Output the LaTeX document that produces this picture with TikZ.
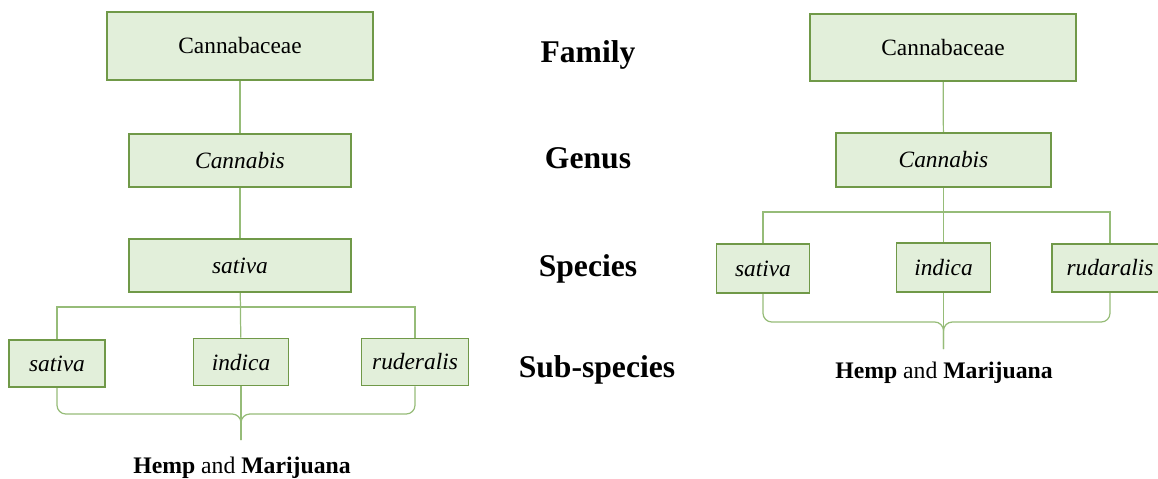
\documentclass[tikz,border=0pt]{standalone}
\usepackage{fontspec}
\setmainfont{Liberation Serif}
\usetikzlibrary{positioning,backgrounds}

\definecolor{boxfill}{RGB}{226,239,218}
\definecolor{boxline}{RGB}{112,153,72}
\definecolor{linkline}{RGB}{150,188,120}

\begin{document}
\begin{tikzpicture}[
    x=0.02cm, y=-0.02cm,
    taxon/.style={draw=boxline, fill=boxfill, line width=1.1pt, inner sep=0pt,
                  font=\fontsize{13.3}{16}\selectfont},
    rank/.style={font=\fontsize{18}{21}\selectfont\bfseries},
    link/.style={draw=linkline, line width=0.7pt},
    hemp/.style={font=\fontsize{13.5}{16}\selectfont},
]
\useasboundingbox (0,0) rectangle (1158,478);

% === Left tree: sativa as the only species ===
\node[taxon, minimum width=5.32cm, minimum height=1.36cm] (famL) at (240,46) {Cannabaceae};
\node[taxon, minimum width=4.44cm, minimum height=1.06cm] (genL) at (240,160.5) {\textit{Cannabis}};
\node[taxon, minimum width=4.44cm, minimum height=1.06cm] (speL) at (240,265.5) {\textit{sativa}};

% Sub-species
\node[taxon, minimum width=1.92cm, minimum height=0.94cm] (satL) at (57,363.5) {\textit{sativa}};
\node[taxon, minimum width=1.90cm, minimum height=0.94cm] (indL) at (241,362) {\textit{indica}};
\node[taxon, minimum width=2.14cm, minimum height=0.94cm] (rudL) at (415,362) {\textit{ruderalis}};

\coordinate (barL) at (241,307);
\coordinate (knotL) at (241,414);
\coordinate (tipL) at (241,440);

\begin{pgfonlayer}{background}
\draw[link] (famL) -- (genL);
\draw[link] (genL) -- (speL);
\draw[link] (speL) -- (indL);
\draw[link] (satL.north) |- (barL) -| (rudL.north);

% bottom brace
\draw[link, rounded corners=5pt] (satL.south) |- (knotL) -- (tipL);
\draw[link, rounded corners=5pt] (rudL.south) |- (knotL) -- (tipL);
\draw[link] (indL) -- (tipL);
\end{pgfonlayer}
\node[hemp] (useL) at (242,468) {\textbf{Hemp} and \textbf{Marijuana}};

% === Rank labels ===
\node[rank] (family) at (588,55) {Family};
\node[rank] (genus) at (588,158) {Genus};
\node[rank] (species) at (588,269) {Species};
\node[rank] (subspecies) at (597,370) {Sub-species};

% === Right tree: three species ===
\node[taxon, minimum width=5.32cm, minimum height=1.34cm] (famR) at (943,47.5) {Cannabaceae};
\node[taxon, minimum width=4.30cm, minimum height=1.08cm] (genR) at (943.5,160) {\textit{Cannabis}};

\node[taxon, minimum width=1.86cm, minimum height=0.98cm] (satR) at (763,268.5) {\textit{sativa}};
\node[taxon, minimum width=1.88cm, minimum height=0.98cm] (indR) at (943.5,267.5) {\textit{indica}};
\node[taxon, minimum width=2.32cm, minimum height=0.96cm] (rudR) at (1110,268) {\textit{rudaralis}};

\coordinate (barR) at (943.5,212);
\coordinate (knotR) at (943.5,322);
\coordinate (tipR) at (943.5,349);

\begin{pgfonlayer}{background}
\draw[link] (famR) -- (genR);
\draw[link] (genR) -- (indR);
\draw[link] (satR.north) |- (barR) -| (rudR.north);

% bottom brace
\draw[link, rounded corners=5pt] (satR.south) |- (knotR) -- (tipR);
\draw[link, rounded corners=5pt] (rudR.south) |- (knotR) -- (tipR);
\draw[link] (indR) -- (tipR);
\end{pgfonlayer}
\node[hemp] (useR) at (944,373) {\textbf{Hemp} and \textbf{Marijuana}};

\end{tikzpicture}
\end{document}
